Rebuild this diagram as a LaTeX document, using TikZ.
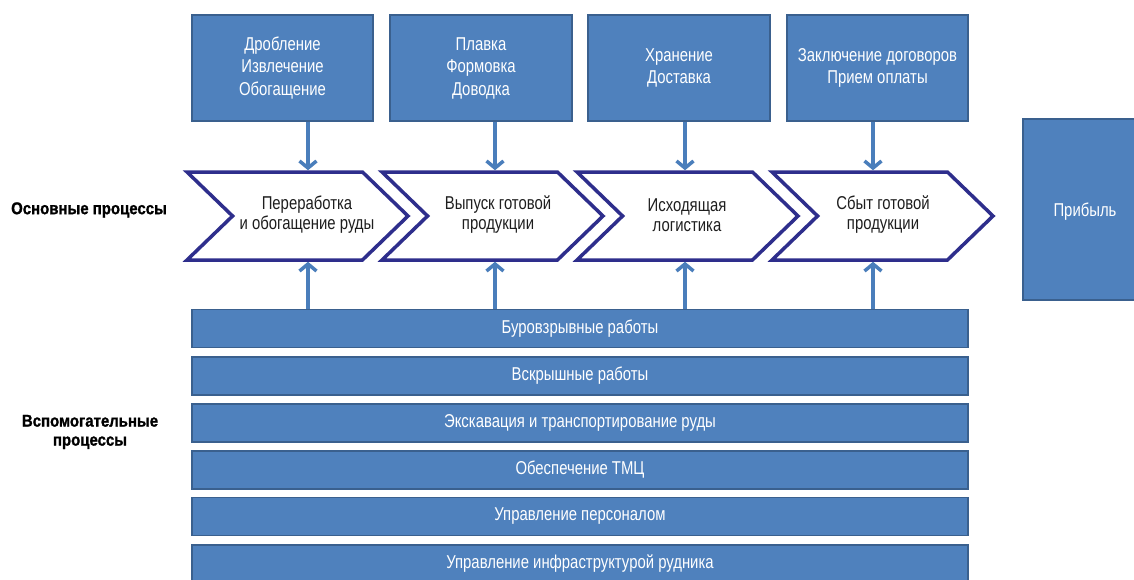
\documentclass[tikz,border=0pt]{standalone}
\usepackage{fontspec}
\setmainfont{Liberation Sans}[FakeStretch=0.8]
\newfontfamily\lblfont{Liberation Sans Bold}[FakeStretch=0.88,FakeBold=1.2]
\usetikzlibrary{arrows.meta,shapes.symbols}
\definecolor{boxblue}{RGB}{79,129,189}
\definecolor{boxedge}{RGB}{58,96,142}
\definecolor{chevedge}{RGB}{46,46,140}
\definecolor{arrblue}{RGB}{74,126,187}
\definecolor{txtdark}{RGB}{30,30,30}
\tikzset{
  topbox/.style={draw=boxedge,line width=1.6pt,fill=boxblue,text=white,align=center,
    minimum height=106pt,inner sep=0pt,font=\fontsize{18.6}{22.5}\selectfont},
  barbox/.style={draw=boxedge,line width=1.6pt,fill=boxblue,text=white,
    minimum width=776pt,minimum height=38pt,inner sep=0pt,font=\fontsize{18.6}{20}\selectfont},
  chev/.style={shape=signal,signal to=east,signal from=west,draw=chevedge,line width=3.5pt,
    fill=white,minimum width=221pt,minimum height=88pt,signal pointer angle=88,inner sep=0pt},
  chevtext/.style={text=txtdark,align=center,font=\fontsize{18.6}{20}\selectfont},
  sidelbl/.style={text=black,align=center,font=\lblfont\fontsize{17}{19}\selectfont},
  arr/.style={draw=arrblue,line width=3.5pt,-{Straight Barb[length=7pt,width=17pt]}}
}
\begin{document}
\begin{tikzpicture}[x=1pt,y=-1pt]
\useasboundingbox[fill=white] (0,0) rectangle (1134,579);
% top boxes
\node[topbox,minimum width=181pt] (t1) at (282.5,68) {Дробление\\Извлечение\\Обогащение};
\node[topbox,minimum width=182pt] (t2) at (481,68) {Плавка\\Формовка\\Доводка};
\node[topbox,minimum width=182pt] (t3) at (679,68) {Хранение\\Доставка};
\node[topbox,minimum width=181pt] (t4) at (877.5,68) {Заключение договоров\\Прием оплаты};
% chevrons
\node[chev] (c1) at (297.5,216) {};
\node[chev] (c2) at (492.5,216) {};
\node[chev] (c3) at (687.5,216) {};
\node[chev] (c4) at (882.5,216) {};
\node[chevtext] (ct1) at (307,215) {Переработка\\и обогащение руды};
\node[chevtext] (ct2) at (498,215) {Выпуск готовой\\продукции};
\node[chevtext] (ct3) at (687,215) {Исходящая\\логистика};
\node[chevtext] (ct4) at (883,215) {Сбыт готовой\\продукции};
% bars
\node[barbox] (b1) at (580,328.5) {Буровзрывные работы};
\node[barbox] (b2) at (580,376) {Вскрышные работы};
\node[barbox] (b3) at (580,423) {Экскавация и транспортирование руды};
\node[barbox] (b4) at (580,470) {Обеспечение ТМЦ};
\node[barbox] (b5) at (580,516.5) {Управление персоналом};
\node[barbox] (b6) at (580,564) {Управление инфраструктурой рудника};
% profit
\node[topbox,minimum width=127pt,minimum height=181pt] (p) at (1086.5,209.5) {};
\node[text=white,font=\fontsize{18.6}{20}\selectfont] (pt) at (1085,212) {Прибыль};
% side labels
\node[sidelbl] (l1) at (89,210) {Основные процессы};
\node[sidelbl] (l2) at (90,432) {Вспомогательные\\процессы};
% arrow columns
\coordinate (a1) at (308,0);
\coordinate (a2) at (495,0);
\coordinate (a3) at (685,0);
\coordinate (a4) at (873,0);
\foreach \i in {1,2,3,4}{
  \draw[arr] (t\i.south -| a\i) -- (c\i.north -| a\i);
  \draw[arr] (b1.north -| a\i) -- (c\i.south -| a\i);
}
\end{tikzpicture}
\end{document}
